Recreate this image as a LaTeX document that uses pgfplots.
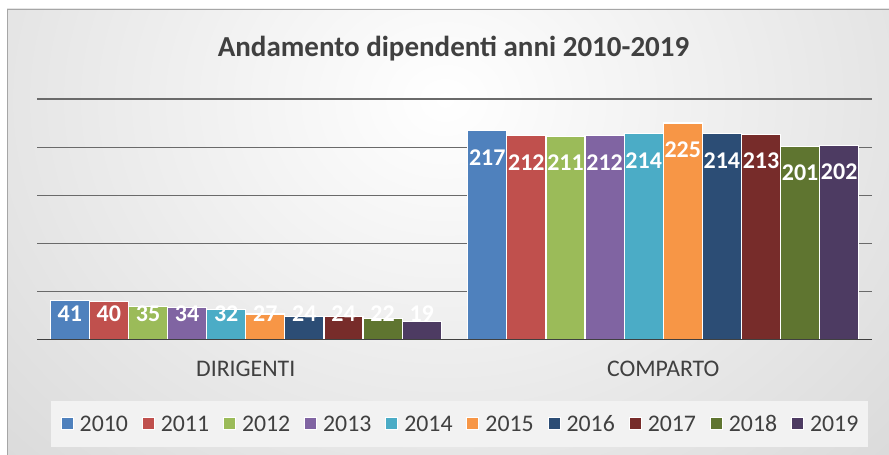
\documentclass[border=0pt]{standalone}
\usepackage{pgfplots}
\pgfplotsset{compat=1.18}
\usepackage{fontspec}
\setmainfont{Carlito}
\definecolor{c2010}{HTML}{4F81BD}
\definecolor{c2011}{HTML}{C0504D}
\definecolor{c2012}{HTML}{9BBB59}
\definecolor{c2013}{HTML}{8064A2}
\definecolor{c2014}{HTML}{4BACC6}
\definecolor{c2015}{HTML}{F79646}
\definecolor{c2016}{HTML}{2C4D75}
\definecolor{c2017}{HTML}{772C2A}
\definecolor{c2018}{HTML}{5F7530}
\definecolor{c2019}{HTML}{4D3B62}
\definecolor{txt}{HTML}{404040}
\definecolor{bgout}{HTML}{C4C4C4}
\definecolor{gridc}{HTML}{6A6A6A}
\definecolor{axisc}{HTML}{404040}
\definecolor{legfill}{HTML}{F2F2F2}
\begin{document}
\begin{tikzpicture}[x=1pt,y=1pt]
\useasboundingbox (0,0) rectangle (889,455);
\fill[white] (0,0) rectangle (889,455);
\begin{scope}
\clip (7,0) rectangle (889,446);
\shade[inner color=white, outer color=bgout] (-555,-485) rectangle (1445,1195);
\end{scope}
\draw[gray!70, line width=0.6pt] (7,0) -- (7,446) -- (889,446);
\node[anchor=base, font=\bfseries\fontsize{29}{34}\selectfont, text=txt] at (453.5,398) {Andamento dipendenti anni 2010-2019};
\begin{axis}[
  at={(37pt,115pt)}, anchor=south west, scale only axis,
  width=835pt, height=241pt,
  ymin=0, ymax=250, xmin=-0.5, xmax=1.5,
  ybar=0pt, bar width=39.1pt,
  ytick={50,100,150,200,250}, yticklabels={}, ymajorgrids,
  major grid style={line width=1.3pt, color=gridc},
  xtick={0,1}, xticklabels={DIRIGENTI,COMPARTO},
  major tick length=0pt,
  axis line style={draw=none},
  xticklabel style={anchor=base, yshift=-37pt, font=\fontsize{23.8}{28}\selectfont, text=txt},
  /pgf/number format/assume math mode=true,
  visualization depends on={y \as \rawy},
  nodes near coords,
  nodes near coords style={font=\bfseries\fontsize{24}{28}\selectfont, text=white, anchor=center,
    yshift={(max(\rawy-27.5,27.5)-\rawy)*0.964}},
  legend columns=10,
  legend image code/.code={\draw[#1, line width=1pt] (0pt,-6pt) rectangle (12pt,6pt);},
  legend style={at={(axis description cs:0.506,-0.3485)}, anchor=center,
    fill=legfill, draw=none, inner xsep=9.5pt, inner ysep=15.5pt,
    /tikz/every odd column/.append style={column sep=6pt},
    /tikz/every even column/.append style={column sep=13.9pt},
    nodes={inner sep=0pt, text height=15pt, text depth=0pt, font=\fontsize{23.8}{28}\selectfont, text=txt}},
]
\addplot[fill=c2010, draw=white, line width=1.2pt] coordinates {(0,41) (1,217)};
\addplot[fill=c2011, draw=white, line width=1.2pt] coordinates {(0,40) (1,212)};
\addplot[fill=c2012, draw=white, line width=1.2pt] coordinates {(0,35) (1,211)};
\addplot[fill=c2013, draw=white, line width=1.2pt] coordinates {(0,34) (1,212)};
\addplot[fill=c2014, draw=white, line width=1.2pt] coordinates {(0,32) (1,214)};
\addplot[fill=c2015, draw=white, line width=1.2pt] coordinates {(0,27) (1,225)};
\addplot[fill=c2016, draw=white, line width=1.2pt] coordinates {(0,24) (1,214)};
\addplot[fill=c2017, draw=white, line width=1.2pt] coordinates {(0,24) (1,213)};
\addplot[fill=c2018, draw=white, line width=1.2pt] coordinates {(0,22) (1,201)};
\addplot[fill=c2019, draw=white, line width=1.2pt] coordinates {(0,19) (1,202)};
\legend{2010,2011,2012,2013,2014,2015,2016,2017,2018,2019}
\draw[color=axisc, line width=2.6pt] (rel axis cs:0,0) -- (rel axis cs:1,0);
\end{axis}
\end{tikzpicture}
\end{document}
